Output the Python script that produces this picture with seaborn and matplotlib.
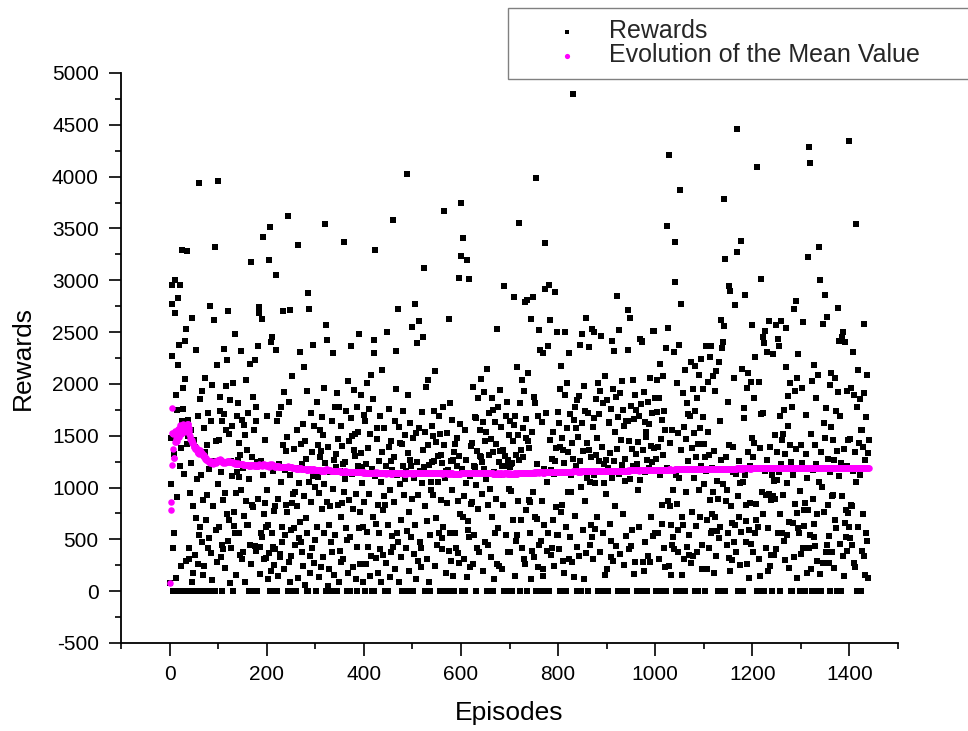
import numpy as np
import pandas as pd
import matplotlib
matplotlib.use("Agg")
import matplotlib.pyplot as plt
import seaborn as sns
from matplotlib.ticker import MultipleLocator

# Reward obtained in each episode (in episode order)
rewards = [
    80, 1480, 1035, 2270, 2770, 2950, 0, 420, 560, 1320, 3000, 2680, 130, 1890, 1750, 910, 2830, 2180, 0, 2380,
    2950, 1210, 1380, 240, 1640, 3290, 1760, 1960, 0, 1130, 2050, 2410, 290, 2530, 1420, 3280, 1650, 1500, 0, 420,
    310, 950, 0, 1240, 1560, 90, 2640, 180, 820, 0, 1460, 1390, 350, 2330, 710, 1080, 0, 260, 1690, 540,
    3940, 620, 1850, 0, 1120, 470, 1930, 160, 880, 1570, 240, 0, 1340, 2060, 690, 0, 1410, 930, 420, 1720,
    510, 1180, 0, 2750, 1640, 370, 110, 1990, 820, 0, 2620, 1260, 3320, 0, 590, 1450, 2180, 280, 3960, 1030,
    1460, 620, 1870, 1740, 330, 1150, 0, 450, 1640, 880, 410, 2340, 1710, 950, 220, 1980, 1560, 740, 2230, 480,
    2700, 690, 1520, 80, 1840, 1260, 420, 1590, 1110, 0, 2010, 760, 630, 560, 2480, 950, 160, 1690, 1150, 1270,
    1820, 560, 1100, 1430, 1310, 350, 980, 2320, 310, 1650, 380, 1190, 730, 1600, 90, 1510, 2040, 870, 640, 1360,
    640, 1720, 0, 1080, 2190, 450, 260, 3180, 1290, 830, 1870, 810, 1560, 0, 2230, 440, 1780, 390, 1640, 1250,
    0, 2365, 890, 2680, 2740, 170, 430, 560, 1260, 520, 2630, 1120, 3420, 740, 310, 1460, 850, 320, 620, 1690,
    980, 120, 640, 370, 3200, 3510, 0, 2400, 190, 2450, 560, 430, 1160, 0, 770, 250, 820, 410, 3050, 2325,
    0, 1640, 890, 150, 1230, 1710, 360, 330, 1780, 1050, 470, 620, 1410, 2700, 210, 1920, 540, 1170, 830, 1350,
    760, 1490, 3620, 0, 280, 1830, 90, 2710, 1120, 590, 340, 850, 2080, 0, 940, 1370, 610, 960, 450, 1190,
    0, 1560, 820, 130, 3340, 1040, 510, 2310, 670, 1420, 470, 1230, 380, 240, 1610, 2160, 920, 60, 1450, 710,
    1280, 0, 560, 1930, 2880, 0, 1050, 2720, 340, 180, 1720, 860, 420, 1340, 2380, 1110, 270, 1590, 1010, 490,
    0, 1170, 1830, 620, 1100, 1410, 950, 140, 1560, 1290, 230, 1350, 1680, 790, 330, 1510, 1960, 560, 1030, 1240,
    3540, 2570, 0, 2420, 860, 50, 1390, 640, 210, 820, 1150, 0, 470, 1640, 380, 990, 2300, 1270, 160, 1780,
    540, 1200, 1320, 1910, 0, 830, 1470, 90, 1780, 1160, 390, 280, 1590, 720, 1400, 850, 1230, 310, 960, 3370,
    1080, 1250, 610, 1740, 0, 490, 2030, 180, 880, 1450, 0, 520, 1670, 2370, 1500, 1130, 790, 230, 1940, 1360,
    1300, 1520, 940, 120, 1780, 430, 0, 1540, 1210, 610, 2480, 760, 260, 1330, 1890, 1200, 1040, 620, 90, 1700,
    860, 0, 1640, 1230, 260, 2010, 570, 1380, 430, 1760, 940, 150, 1520, 2090, 340, 0, 1180, 1850, 720, 2420,
    0, 2295, 1110, 3290, 320, 650, 1470, 1570, 180, 830, 1260, 560, 1690, 410, 1050, 90, 2130, 1340, 350, 780,
    1570, 920, 0, 830, 1210, 270, 2500, 2500, 640, 0, 1390, 1760, 140, 980, 1450, 380, 1260, 530, 1170, 3580,
    430, 1290, 860, 1640, 210, 1950, 2320, 560, 1120, 2720, 470, 90, 1580, 1030, 1430, 330, 690, 1420, 0, 1210,
    1740, 0, 930, 1510, 1080, 420, 1160, 4025, 580, 0, 1330, 1890, 760, 190, 1620, 1270, 520, 1210, 890, 2550,
    0, 1480, 1090, 360, 2770, 640, 1530, 120, 2390, 1250, 290, 930, 1570, 2610, 470, 1160, 420, 230, 1730, 1040,
    1360, 2450, 3115, 1200, 820, 1540, 0, 1970, 1130, 310, 680, 1410, 2040, 90, 1220, 540, 0, 980, 1050, 1250,
    1590, 930, 1500, 1740, 1260, 240, 2120, 710, 1440, 450, 1130, 1050, 1300, 560, 1690, 1520, 0, 1310, 880, 510,
    1240, 410, 1780, 620, 1410, 3665, 0, 1090, 1160, 180, 850, 1530, 0, 1170, 2630, 390, 560, 1820, 1260, 290,
    1650, 980, 150, 1270, 1340, 0, 560, 1420, 1120, 420, 1480, 1210, 370, 870, 1300, 3020, 270, 1610, 740, 3750,
    3230, 0, 1180, 720, 3410, 310, 920, 1560, 0, 1040, 1270, 140, 3200, 680, 590, 520, 3010, 1110, 230, 840,
    1400, 1430, 860, 260, 1970, 1210, 540, 1200, 1680, 1670, 0, 1020, 1350, 420, 790, 1860, 380, 1140, 1560, 1300,
    1290, 2050, 1250, 940, 1630, 190, 1180, 1920, 470, 1450, 1540, 1080, 0, 2140, 830, 450, 1720, 1310, 0, 990,
    1470, 330, 1860, 720, 0, 1340, 1750, 120, 1150, 1630, 560, 890, 1420, 2530, 260, 1780, 610, 240, 1250, 1940,
    1350, 1120, 1580, 210, 1210, 830, 1360, 0, 2945, 1210, 1300, 1690, 540, 0, 1830, 1270, 380, 990, 1510, 1200,
    1640, 380, 1230, 970, 0, 1240, 1450, 690, 1600, 2835, 150, 1690, 1310, 480, 540, 2160, 1510, 870, 3555, 1270,
    0, 1820, 1360, 690, 2040, 420, 1570, 1290, 310, 1930, 2790, 260, 1480, 1660, 780, 2810, 0, 1450, 2110, 880,
    1380, 560, 860, 120, 2630, 390, 1540, 2835, 960, 1870, 330, 1820, 720, 0, 3990, 1230, 700, 230, 1690, 450,
    2520, 0, 2330, 1140, 480, 1630, 870, 150, 210, 2300, 640, 1180, 3360, 2915, 0, 1720, 390, 1050, 2370, 560,
    0, 2950, 1460, 2620, 350, 1170, 1280, 420, 690, 1540, 240, 1130, 1260, 2890, 810, 1380, 2500, 540, 1730, 540,
    1620, 410, 0, 1950, 1390, 760, 2170, 830, 1480, 290, 1360, 1240, 180, 1890, 2500, 620, 0, 1570, 2010, 960,
    1340, 2300, 310, 1710, 520, 1120, 960, 1430, 280, 4800, 1280, 140, 1650, 1780, 730, 1210, 1570, 0, 1840, 430,
    0, 1490, 1880, 340, 1260, 2375, 1010, 0, 2485, 1620, 590, 1350, 1980, 120, 870, 1740, 2640, 370, 1430, 1090,
    1720, 0, 1360, 2360, 450, 1050, 1290, 640, 2530, 520, 1580, 310, 2500, 1120, 1670, 1040, 600, 1310, 1850, 720,
    1480, 2010, 0, 1260, 1710, 380, 1930, 1150, 2460, 0, 1390, 1820, 560, 1040, 1230, 2080, 160, 1270, 940, 210,
    1840, 1190, 0, 1620, 1630, 650, 1330, 1760, 330, 480, 2410, 1090, 290, 1950, 1260, 2320, 820, 1540, 1870, 440,
    1370, 2850, 0, 1680, 2520, 1130, 360, 1910, 1460, 0, 2030, 1220, 740, 1750, 1590, 250, 1280, 1060, 530, 1640,
    1160, 0, 1640, 2710, 2330, 410, 1450, 2635, 1080, 440, 1790, 1370, 590, 2040, 1210, 170, 1660, 1890, 280, 1320,
    1750, 1230, 0, 980, 1440, 620, 1690, 1070, 2435, 0, 1810, 2410, 2400, 280, 1360, 1920, 190, 1150, 1630, 470,
    1540, 1490, 0, 1270, 1830, 340, 1610, 1190, 280, 2060, 1400, 720, 1720, 1250, 2510, 530, 2510, 1380, 560, 1860,
    1280, 0, 1730, 2040, 560, 1390, 310, 1860, 1120, 2190, 0, 1470, 830, 1650, 650, 2080, 1310, 420, 1740, 230,
    1560, 2345, 0, 1190, 3520, 2540, 870, 240, 4210, 1430, 820, 160, 640, 1560, 450, 520, 980, 2305, 410, 3365,
    2980, 1120, 0, 840, 2010, 380, 590, 1530, 2380, 1090, 3875, 0, 2770, 1360, 720, 160, 1910, 640, 310, 1580,
    0, 2130, 1470, 960, 430, 1820, 1260, 1710, 350, 540, 1690, 1180, 270, 2210, 1380, 760, 340, 1950, 1530, 1090,
    0, 1740, 2170, 630, 1290, 380, 1860, 1420, 0, 2090, 980, 1570, 720, 1210, 2240, 450, 210, 1680, 1950, 1030,
    1420, 0, 1290, 1160, 2365, 210, 690, 1540, 2020, 420, 1310, 2255, 880, 560, 2370, 740, 1190, 580, 960, 2080,
    180, 1350, 1930, 720, 340, 2120, 580, 1060, 0, 890, 2210, 510, 1640, 620, 1270, 2615, 2350, 0, 1030, 2400,
    3780, 2560, 0, 3205, 1290, 870, 450, 980, 560, 1830, 320, 1410, 2945, 2895, 190, 820, 1180, 660, 300, 1150,
    1390, 470, 2060, 640, 2760, 380, 1130, 4455, 3270, 0, 920, 1260, 720, 250, 1040, 570, 3380, 0, 2140, 1050,
    0, 1670, 1770, 1120, 2855, 470, 680, 830, 1960, 260, 1340, 2110, 590, 130, 850, 1210, 2020, 460, 1480, 2570,
    1290, 380, 1860, 1430, 560, 2260, 840, 690, 0, 4090, 620, 1180, 310, 2020, 1380, 150, 1710, 3010, 960, 0,
    740, 1720, 2455, 2390, 0, 2515, 1160, 420, 930, 2305, 1270, 190, 610, 940, 2610, 240, 1390, 880, 350, 1120,
    0, 920, 2290, 1060, 350, 1510, 890, 2570, 410, 1340, 1070, 2430, 560, 1150, 2370, 740, 0, 1690, 1230, 2610,
    560, 1460, 1520, 930, 480, 1750, 1320, 300, 2160, 2540, 1040, 540, 1590, 1880, 220, 670, 1410, 2010, 0, 1250,
    1780, 0, 1120, 660, 2720, 330, 1930, 840, 2800, 1370, 130, 750, 2060, 610, 2290, 1180, 560, 0, 970, 1410,
    360, 1960, 1240, 420, 2595, 630, 780, 0, 850, 1320, 1700, 180, 1090, 780, 3220, 420, 4290, 540, 4130, 210,
    1520, 2030, 0, 1170, 890, 650, 520, 2180, 1410, 440, 1860, 1230, 290, 740, 2090, 0, 3320, 1050, 170, 3005,
    1340, 0, 1010, 1190, 2575, 270, 1620, 760, 2855, 1480, 380, 1770, 2650, 450, 1280, 830, 530, 270, 1990, 1150,
    0, 1580, 2110, 920, 380, 1460, 930, 220, 1270, 2060, 690, 610, 1740, 1350, 0, 1920, 2735, 1110, 2415, 460,
    1690, 1240, 0, 2455, 920, 340, 2500, 1370, 150, 2405, 660, 780, 520, 1930, 1210, 390, 750, 1460, 620, 4345,
    510, 1470, 1960, 830, 450, 820, 2310, 1160, 270, 1890, 1340, 230, 3540, 1050, 1780, 0, 620, 2130, 1430, 0,
    1850, 1120, 0, 1560, 1560, 390, 1390, 740, 2580, 340, 1910, 1270, 160, 1680, 560, 480, 2090, 1330, 130, 1460,
]

x_ticks = [0, 200, 400, 600, 800, 1000, 1200, 1400]
y_ticks = [-500, 0, 500, 1000, 1500, 2000, 2500, 3000, 3500, 4000, 4500, 5000]
x_label = "Episodes"
y_label = "Rewards"
series_labels = ["Rewards", "Evolution of the Mean Value"]

episodes = np.arange(1, len(rewards) + 1)
mean_value = np.cumsum(rewards) / episodes  # running mean of the rewards

df = pd.DataFrame({"Episodes": episodes, "Rewards": rewards, "Mean": mean_value})

sns.set_style("ticks")
plt.rcParams["font.family"] = ["Liberation Sans", "DejaVu Sans"]
plt.rcParams["axes.unicode_minus"] = False

fig = plt.figure(figsize=(9.68, 7.31), dpi=100)
ax = fig.add_axes([121 / 968, 88 / 731, 777 / 968, 570 / 731])

sns.scatterplot(data=df, x="Episodes", y="Rewards", marker="s", s=14,
                color="black", linewidth=0, ax=ax, label=series_labels[0], zorder=2)
sns.scatterplot(data=df, x="Episodes", y="Mean", marker="o", s=22,
                color="#ff00ff", linewidth=0, ax=ax, label=series_labels[1], zorder=3)

ax.set_xlim(-100, 1500)
ax.set_ylim(-500, 5000)
ax.set_xticks(x_ticks)
ax.set_yticks(y_ticks)
ax.xaxis.set_minor_locator(MultipleLocator(100))
ax.yaxis.set_minor_locator(MultipleLocator(250))
ax.tick_params(which="major", direction="out", length=9, width=1.2,
               labelsize=15, pad=7, color="black", labelcolor="black")
ax.tick_params(which="minor", direction="out", length=4.5, width=1.2, color="black")

for side in ["top", "right"]:
    ax.spines[side].set_visible(False)
for side in ["left", "bottom"]:
    ax.spines[side].set_linewidth(1.3)
    ax.spines[side].set_color("black")

ax.set_xlabel(x_label, fontsize=19, labelpad=12, color="black")
ax.set_ylabel(y_label, fontsize=19, labelpad=12, color="black")

leg = ax.legend(loc="upper left", mode="expand",
                bbox_to_anchor=(508 / 968, 1 - 80 / 731, 480 / 968, 72 / 731),
                bbox_transform=fig.transFigure, frameon=True, fancybox=False,
                edgecolor="#808080", framealpha=1, fontsize=18,
                handlelength=3.8, handletextpad=-0.2, borderpad=0.45,
                labelspacing=0.0, borderaxespad=0, scatterpoints=1,
                markerscale=0.8)
leg.get_frame().set_linewidth(1.0)

fig.savefig("out.png", dpi=100)
